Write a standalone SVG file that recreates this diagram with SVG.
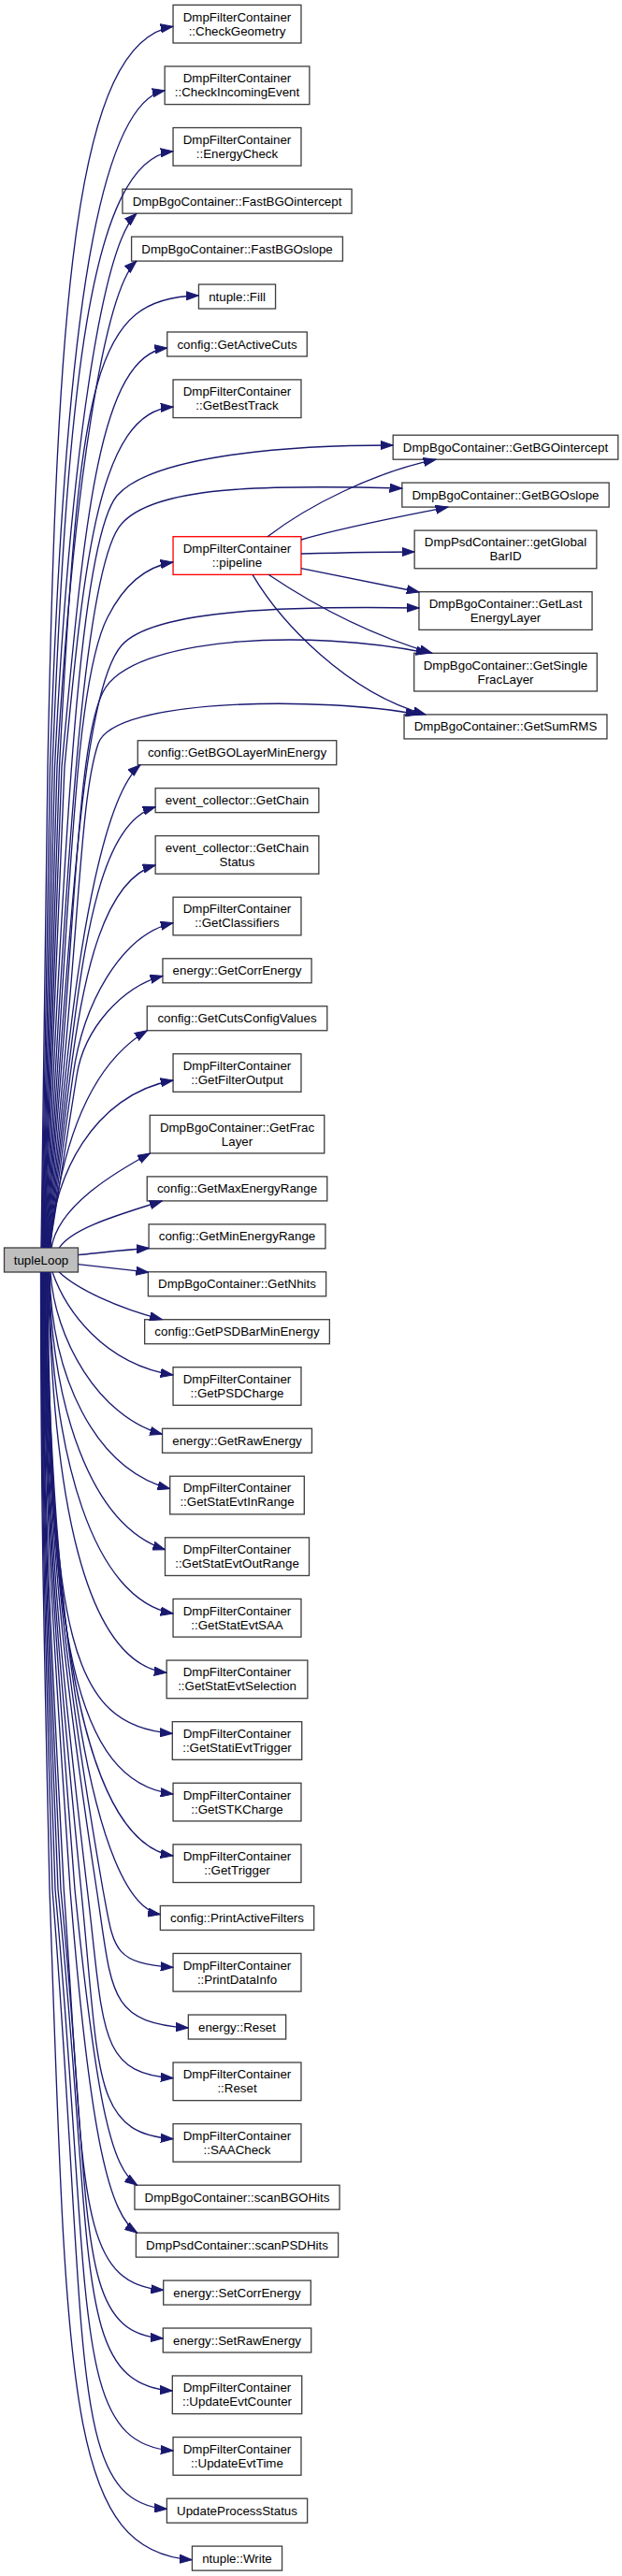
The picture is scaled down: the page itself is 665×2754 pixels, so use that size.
<svg xmlns="http://www.w3.org/2000/svg" width="665" height="2754" viewBox="0 0 665 2754">
<style>
.n rect{fill:#fff;stroke:#404040;stroke-width:1.33}
.n text{font-family:"Liberation Sans",Arial,Helvetica,sans-serif;font-size:13.33px;text-anchor:middle;fill:#000}
.L text{}
.root rect{fill:#bfbfbf}
.red rect{stroke:#ff0000}
.e path{fill:none;stroke:#191970;stroke-width:1.33;marker-end:url(#a)}
</style>
<defs>
<marker id="a" markerUnits="userSpaceOnUse" viewBox="0 0 14 10" markerWidth="14" markerHeight="10" refX="13.3" refY="5" orient="auto">
<path d="M0,0.4 L13.3,5 L0,9.6 z" fill="#191970" stroke="#191970" stroke-width="1"/>
</marker>
</defs>
<rect x="0" y="0" width="665" height="2754" fill="#fff"/>

<g id="tupleLoop" class="n root"><rect x="4.5" y="1334" width="79" height="26"/><text x="44" y="1351.5">tupleLoop</text></g>

<g id="CheckGeometry" class="n"><rect x="185.05" y="5.33" width="136.9" height="40.67"/><text x="253.5" y="22.5">DmpFilterContainer</text><text x="253.5" y="37.5">::CheckGeometry</text></g>
<g id="CheckIncomingEvent" class="n"><rect x="176.15" y="70.94" width="154.7" height="40.67"/><text x="253.5" y="88.1">DmpFilterContainer</text><text x="253.5" y="103.1">::CheckIncomingEvent</text></g>
<g id="EnergyCheck" class="n"><rect x="185.05" y="136.55" width="136.9" height="40.67"/><text x="253.5" y="153.8">DmpFilterContainer</text><text x="253.5" y="168.8">::EnergyCheck</text></g>
<g id="FastBGOintercept" class="n"><rect x="130.95" y="202.16" width="245.1" height="26"/><text x="253.5" y="219.7">DmpBgoContainer::FastBGOintercept</text></g>
<g id="FastBGOslope" class="n"><rect x="140.6" y="253.1" width="225.8" height="26"/><text x="253.5" y="270.6">DmpBgoContainer::FastBGOslope</text></g>
<g id="Fill" class="n"><rect x="212.45" y="304.04" width="82.1" height="26"/><text x="253.5" y="321.5">ntuple::Fill</text></g>
<g id="GetActiveCuts" class="n"><rect x="178.75" y="354.98" width="149.5" height="26"/><text x="253.5" y="372.5">config::GetActiveCuts</text></g>
<g id="GetBestTrack" class="n"><rect x="185.05" y="405.92" width="136.9" height="40.67"/><text x="253.5" y="423.1">DmpFilterContainer</text><text x="253.5" y="438.1">::GetBestTrack</text></g>
<g id="pipeline" class="n red"><rect x="185.05" y="573.7" width="136.9" height="40.67"/><text x="253.5" y="590.9">DmpFilterContainer</text><text x="253.5" y="605.9">::pipeline</text></g>
<g id="GetBGOLayerMinEnergy" class="n"><rect x="147.25" y="791.7" width="212.5" height="26"/><text x="253.5" y="809.2">config::GetBGOLayerMinEnergy</text></g>
<g id="GetChain" class="n"><rect x="166.15" y="842.64" width="174.7" height="26"/><text x="253.5" y="860.1">event_collector::GetChain</text></g>
<g id="GetChainStatus" class="n"><rect x="166.15" y="893.58" width="174.7" height="40.67"/><text x="253.5" y="910.8">event_collector::GetChain</text><text x="253.5" y="925.8">Status</text></g>
<g id="GetClassifiers" class="n"><rect x="185.05" y="959.19" width="136.9" height="40.67"/><text x="253.5" y="976.4">DmpFilterContainer</text><text x="253.5" y="991.4">::GetClassifiers</text></g>
<g id="GetCorrEnergy" class="n"><rect x="173.95" y="1024.8" width="159.1" height="26"/><text x="253.5" y="1042.3">energy::GetCorrEnergy</text></g>
<g id="GetCutsConfigValues" class="n"><rect x="157.25" y="1075.74" width="192.5" height="26"/><text x="253.5" y="1093.2">config::GetCutsConfigValues</text></g>
<g id="GetFilterOutput" class="n"><rect x="185.05" y="1126.68" width="136.9" height="40.67"/><text x="253.5" y="1143.9">DmpFilterContainer</text><text x="253.5" y="1158.9">::GetFilterOutput</text></g>
<g id="GetFracLayer" class="n"><rect x="160.25" y="1192.29" width="186.5" height="40.67"/><text x="253.5" y="1209.5">DmpBgoContainer::GetFrac</text><text x="253.5" y="1224.5">Layer</text></g>
<g id="GetMaxEnergyRange" class="n"><rect x="157.25" y="1257.9" width="192.5" height="26"/><text x="253.5" y="1275.4">config::GetMaxEnergyRange</text></g>
<g id="GetMinEnergyRange" class="n"><rect x="159.1" y="1308.84" width="188.8" height="26"/><text x="253.5" y="1326.3">config::GetMinEnergyRange</text></g>
<g id="GetNhits" class="n"><rect x="158.4" y="1359.78" width="190.2" height="26"/><text x="253.5" y="1377.3">DmpBgoContainer::GetNhits</text></g>
<g id="GetPSDBarMinEnergy" class="n"><rect x="154.65" y="1410.72" width="197.7" height="26"/><text x="253.5" y="1428.2">config::GetPSDBarMinEnergy</text></g>
<g id="GetPSDCharge" class="n"><rect x="185.05" y="1461.66" width="136.9" height="40.67"/><text x="253.5" y="1478.9">DmpFilterContainer</text><text x="253.5" y="1493.9">::GetPSDCharge</text></g>
<g id="GetRawEnergy" class="n"><rect x="173.55" y="1527.27" width="159.9" height="26"/><text x="253.5" y="1544.8">energy::GetRawEnergy</text></g>
<g id="GetStatEvtInRange" class="n"><rect x="181.7" y="1578.21" width="143.6" height="40.67"/><text x="253.5" y="1595.4">DmpFilterContainer</text><text x="253.5" y="1610.4">::GetStatEvtInRange</text></g>
<g id="GetStatEvtOutRange" class="n"><rect x="176.5" y="1643.82" width="154" height="40.67"/><text x="253.5" y="1661">DmpFilterContainer</text><text x="253.5" y="1676">::GetStatEvtOutRange</text></g>
<g id="GetStatEvtSAA" class="n"><rect x="185.05" y="1709.43" width="136.9" height="40.67"/><text x="253.5" y="1726.6">DmpFilterContainer</text><text x="253.5" y="1741.6">::GetStatEvtSAA</text></g>
<g id="GetStatEvtSelection" class="n"><rect x="178.15" y="1775.04" width="150.7" height="40.67"/><text x="253.5" y="1792.2">DmpFilterContainer</text><text x="253.5" y="1807.2">::GetStatEvtSelection</text></g>
<g id="GetStatiEvtTrigger" class="n"><rect x="184.3" y="1840.65" width="138.4" height="40.67"/><text x="253.5" y="1857.9">DmpFilterContainer</text><text x="253.5" y="1872.9">::GetStatiEvtTrigger</text></g>
<g id="GetSTKCharge" class="n"><rect x="185.05" y="1906.26" width="136.9" height="40.67"/><text x="253.5" y="1923.5">DmpFilterContainer</text><text x="253.5" y="1938.5">::GetSTKCharge</text></g>
<g id="GetTrigger" class="n"><rect x="185.05" y="1971.87" width="136.9" height="40.67"/><text x="253.5" y="1989.1">DmpFilterContainer</text><text x="253.5" y="2004.1">::GetTrigger</text></g>
<g id="PrintActiveFilters" class="n"><rect x="171.35" y="2037.48" width="164.3" height="26"/><text x="253.5" y="2055">config::PrintActiveFilters</text></g>
<g id="PrintDataInfo" class="n"><rect x="185.05" y="2088.42" width="136.9" height="40.67"/><text x="253.5" y="2105.6">DmpFilterContainer</text><text x="253.5" y="2120.6">::PrintDataInfo</text></g>
<g id="energyReset" class="n"><rect x="201.35" y="2154.03" width="104.3" height="26"/><text x="253.5" y="2171.5">energy::Reset</text></g>
<g id="Reset" class="n"><rect x="185.05" y="2204.97" width="136.9" height="40.67"/><text x="253.5" y="2222.2">DmpFilterContainer</text><text x="253.5" y="2237.2">::Reset</text></g>
<g id="SAACheck" class="n"><rect x="185.05" y="2270.58" width="136.9" height="40.67"/><text x="253.5" y="2287.8">DmpFilterContainer</text><text x="253.5" y="2302.8">::SAACheck</text></g>
<g id="scanBGOHits" class="n"><rect x="143.95" y="2336.19" width="219.1" height="26"/><text x="253.5" y="2353.7">DmpBgoContainer::scanBGOHits</text></g>
<g id="scanPSDHits" class="n"><rect x="145.4" y="2387.13" width="216.2" height="26"/><text x="253.5" y="2404.6">DmpPsdContainer::scanPSDHits</text></g>
<g id="SetCorrEnergy" class="n"><rect x="174.7" y="2438.07" width="157.6" height="26"/><text x="253.5" y="2455.6">energy::SetCorrEnergy</text></g>
<g id="SetRawEnergy" class="n"><rect x="174.3" y="2489.01" width="158.4" height="26"/><text x="253.5" y="2506.5">energy::SetRawEnergy</text></g>
<g id="UpdateEvtCounter" class="n"><rect x="184.3" y="2539.95" width="138.4" height="40.67"/><text x="253.5" y="2557.2">DmpFilterContainer</text><text x="253.5" y="2572.2">::UpdateEvtCounter</text></g>
<g id="UpdateEvtTime" class="n"><rect x="185.05" y="2605.56" width="136.9" height="40.67"/><text x="253.5" y="2622.8">DmpFilterContainer</text><text x="253.5" y="2637.8">::UpdateEvtTime</text></g>
<g id="UpdateProcessStatus" class="n"><rect x="178.4" y="2671.17" width="150.2" height="26"/><text x="253.5" y="2688.7">UpdateProcessStatus</text></g>
<g id="Write" class="n"><rect x="205.45" y="2722.11" width="96.1" height="26"/><text x="253.5" y="2739.6">ntuple::Write</text></g>

<g id="GetBGOintercept" class="n"><rect x="420.2" y="465.2" width="240.6" height="26"/><text x="540.5" y="482.7">DmpBgoContainer::GetBGOintercept</text></g>
<g id="GetBGOslope" class="n"><rect x="429.85" y="516.1" width="221.3" height="26"/><text x="540.5" y="533.6">DmpBgoContainer::GetBGOslope</text></g>
<g id="getGlobalBarID" class="n"><rect x="443.15" y="567.1" width="194.7" height="40.67"/><text x="540.5" y="584.3">DmpPsdContainer::getGlobal</text><text x="540.5" y="599.3">BarID</text></g>
<g id="GetLastEnergyLayer" class="n"><rect x="447.95" y="632.7" width="185.1" height="40.67"/><text x="540.5" y="649.9">DmpBgoContainer::GetLast</text><text x="540.5" y="664.9">EnergyLayer</text></g>
<g id="GetSingleFracLayer" class="n"><rect x="442.7" y="698.3" width="195.6" height="40.67"/><text x="540.5" y="715.5">DmpBgoContainer::GetSingle</text><text x="540.5" y="730.5">FracLayer</text></g>
<g id="GetSumRMS" class="n"><rect x="432.05" y="763.9" width="216.9" height="26"/><text x="540.5" y="781.4">DmpBgoContainer::GetSumRMS</text></g>

<g id="edges" class="e">
<path d="M44,1334 L51,820 C61,320 80,45 185.05,28.3"/>
<path d="M44.5,1334 L53.5,820 C68,380 100,112 176.15,96.7"/>
<path d="M45,1334 L56,820 C72,420 95,172 185.05,161.7"/>
<path d="M45.5,1334 L58.5,820 C75,480 110,262 146,228.2"/>
<path d="M46,1334 L61,820 C78,520 112,310 146,279.1"/>
<path d="M46.5,1334 L63.5,820 C85,400 100,318 212.45,316"/>
<path d="M47,1334 L66,820 C90,560 105,380 178.75,372"/>
<path d="M47.5,1334 L69,820 C90,600 105,440 185.05,435"/>
<path d="M48,1334 L57,1150 C72,850 88,575 125,530 C160,490 290,476 420.2,476"/>
<path d="M48.5,1334 L59,1150 C75,870 93,600 130,560 C165,520 280,518 429.85,522"/>
<path d="M49,1334 L61,1150 C77,900 84,720 115,660 C135,620 160,605 185.05,601"/>
<path d="M49.5,1334 L63,1150 C81,900 95,730 130,690 C165,650 320,648 447.95,650"/>
<path d="M50,1334 L65,1150 C81,955 85,790 110,740 C140,680 330,672 458,698.3"/>
<path d="M50.5,1334 L67.5,1150 C86,950 88,845 105,795 C122,745 350,745 447,763.9"/>
<path d="M51,1334 L70,1150 C85.5,1000 112,850 150,817.7"/>
<path d="M51.5,1334 L72.5,1150 C90.8,990 110,880 166.15,862.7"/>
<path d="M52,1334 L75,1150 C88.8,1040 112,940 166.15,925"/>
<path d="M52.5,1334 L78,1150 C88.4,1075 128,1000 185.05,986.7"/>
<path d="M53,1334 L82,1150 C89.9,1100 130,1055 173.95,1043.3"/>
<path d="M53.5,1334 C62,1250 85,1145 157.3,1101.7"/>
<path d="M54,1334 C55,1260 100,1170 185.05,1155"/>
<path d="M55,1334 C62,1290 120,1255 160.5,1233"/>
<path d="M63.3,1334 C78,1312 130,1298 173.3,1283.9"/>
<path d="M83.5,1341.7 C110,1339 135,1336 159.5,1334.5"/>
<path d="M83.5,1351.7 C110,1354.5 135,1357.5 158.6,1360.2"/>
<path d="M63.3,1360 C82,1378 125,1398 173.3,1410.7"/>
<path d="M56,1360 C70,1400 110,1458 185.05,1470"/>
<path d="M54,1360 C58,1430 105,1515 173.55,1533.3"/>
<path d="M53,1360 C55,1470 100,1570 181.7,1591.7"/>
<path d="M52.5,1360 C55,1500 95,1630 176.5,1656.7"/>
<path d="M52,1360 C55,1560 100,1710 185.05,1725"/>
<path d="M51.5,1360 C56,1600 90,1778 178.15,1788.3"/>
<path d="M51,1360 C54,1750 75,1845 184.3,1853.3"/>
<path d="M50.5,1360 C51,1750 80,1905 185.05,1918"/>
<path d="M50,1360 C51,1760 95,1970 185.05,1984"/>
<path d="M49.5,1360 C55,1750 100,2035 171.35,2046.7"/>
<path d="M49,1360 C49,1624 70,1789 110,2020 C121.9,2082.5 119,2098.8 185.05,2103.3"/>
<path d="M48.5,1360 C48.5,1624 68,1789 103.3,2020 C120,2131 115.1,2162.1 201.35,2168"/>
<path d="M48,1360 C48,1624 66,1789 93.3,2020 C111.5,2171.3 104.3,2216.2 185.05,2221.7"/>
<path d="M47.5,1360 C47.5,1624 64,1789 86.7,2020 C106.7,2220 98.5,2280.8 185.05,2286.7"/>
<path d="M47,1360 C47,1624 62.7,1789 80,2020 C103.8,2257.5 120,2318 146.7,2336.2"/>
<path d="M46.5,1360 C46.5,1624 60,1789 75,2020 C97,2295.3 118,2368 146.7,2387.1"/>
<path d="M46,1360 C46,1624 56.6,1789 68.3,2020 C90.8,2341.2 81.1,2441.9 174.7,2448.3"/>
<path d="M45.5,1360 C45.5,1624 54.8,1789 65,2020 C100,2380 78.1,2493.4 174.3,2500"/>
<path d="M45,1360 C45,1624 53.1,1789 62,2020 C102.2,2422 76.7,2548.7 184.3,2556"/>
<path d="M44.5,1360 C44.5,1624 51.4,1789 59,2020 C99.5,2470 74.1,2612.4 185.05,2620"/>
<path d="M44,1360 C44,1624 49.7,1789 56,2020 C95.7,2516.7 70.7,2675 178.4,2682.3"/>
<path d="M43.5,1360 C43.5,1624 48,1789 53,2020 C71.8,2557.5 71.3,2727.5 205.45,2736.7"/>
<path d="M286,573.7 C330,540 400,505 466,491.2"/>
<path d="M322,577 C370,563 430,552 479,542.1"/>
<path d="M322,592 C360,591 400,590 443.15,590"/>
<path d="M322,607.7 C370,617 410,625 448,633"/>
<path d="M287,614.3 C340,650 400,680 462,698.3"/>
<path d="M270,614.3 C300,665 370,740 455,763.9"/>
</g>
</svg>
